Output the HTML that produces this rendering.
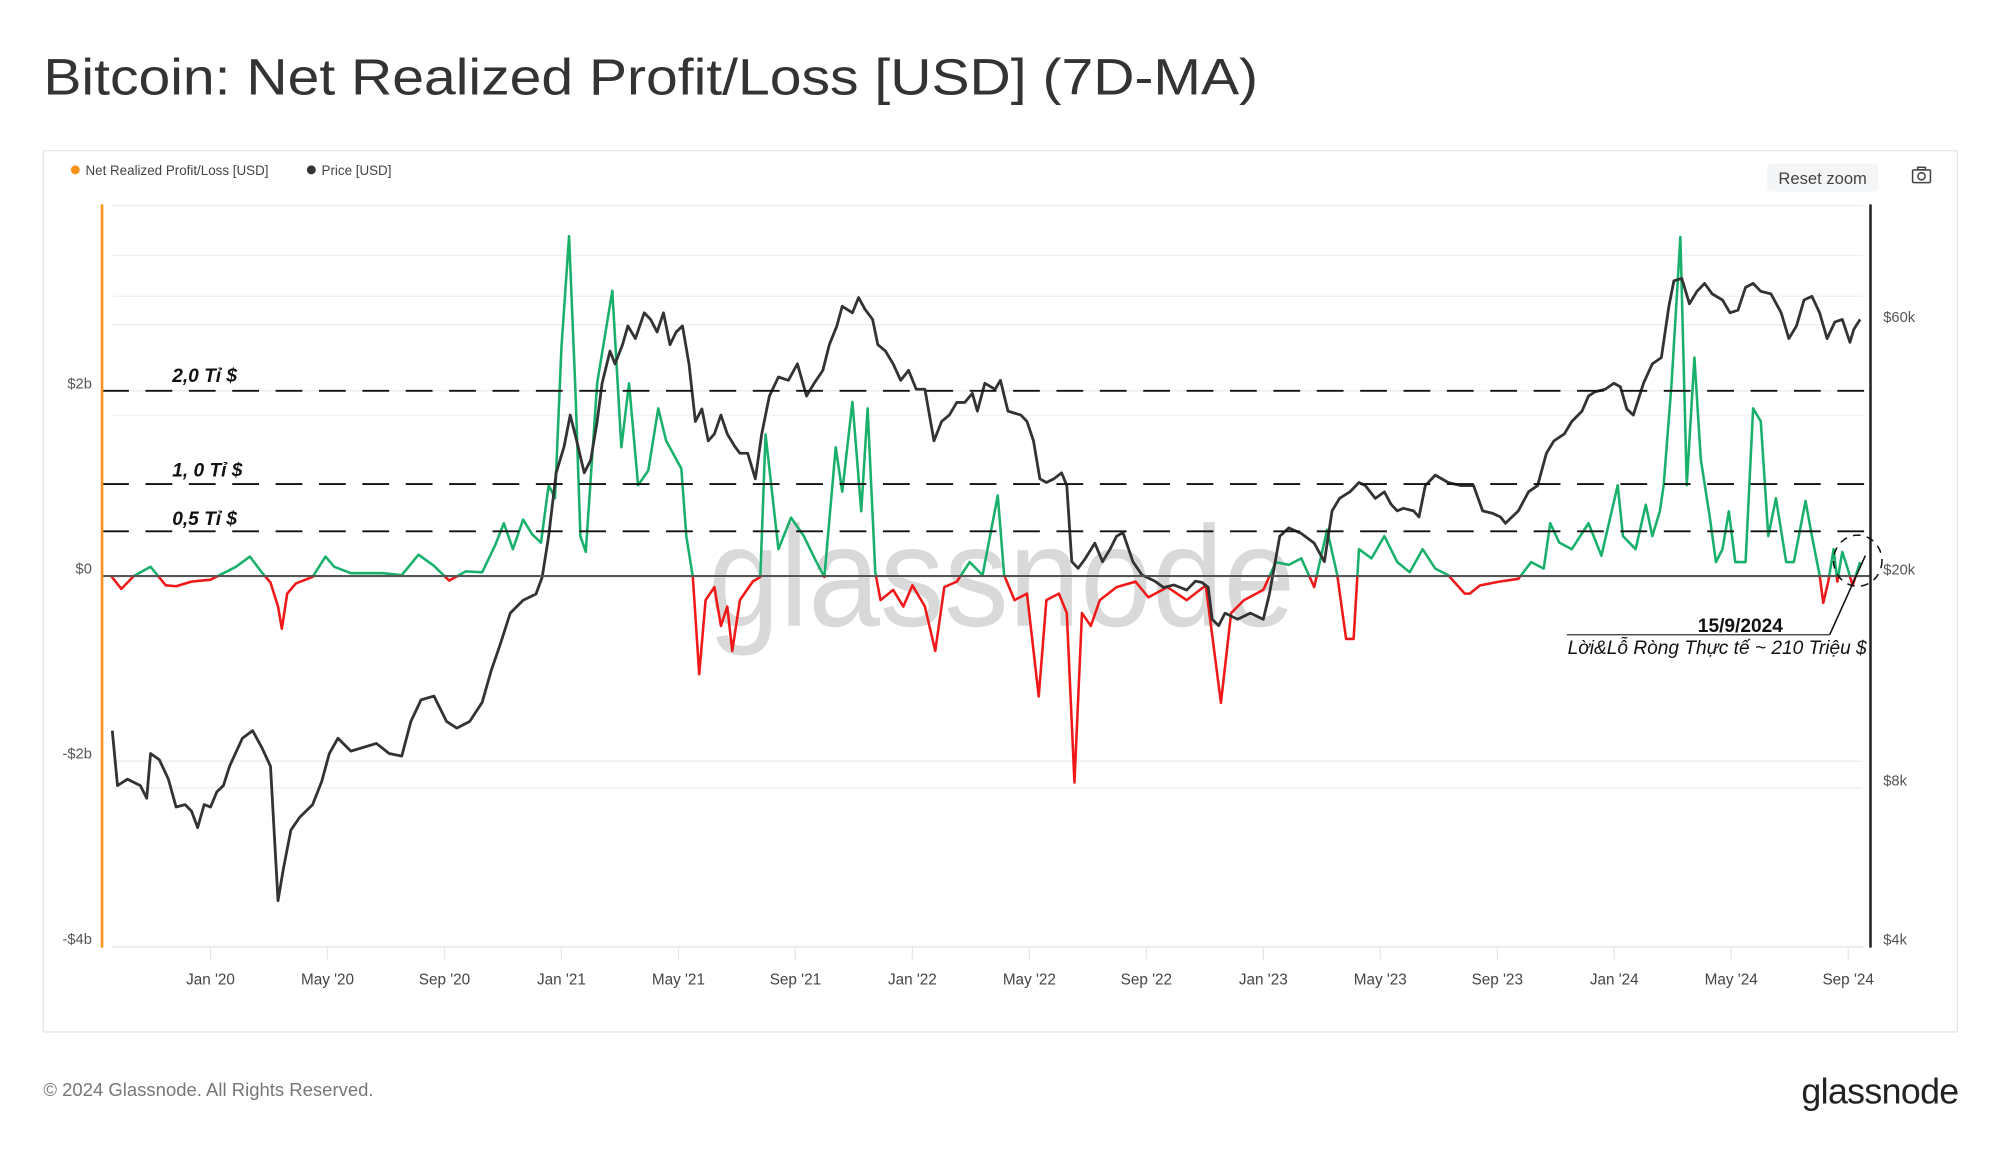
<!DOCTYPE html>
<html><head><meta charset="utf-8"><style>
html,body{margin:0;padding:0;background:#fff;}
svg{display:block;font-family:"Liberation Sans","Noto Sans CJK SC",sans-serif;}
</style></head><body>
<svg id="chart" width="2000" height="1152" viewBox="0 0 1567.5 902" preserveAspectRatio="none" xmlns="http://www.w3.org/2000/svg">
<text x="34" y="74" font-size="40" fill="#333" textLength="952" lengthAdjust="spacingAndGlyphs">Bitcoin: Net Realized Profit/Loss [USD] (7D-MA)</text>
<rect x="34" y="118" width="1500" height="690" fill="#fff" stroke="#e6e6e6" stroke-width="1"/>
<g>
<g><circle cx="59" cy="133" r="3.5" fill="#f7931a"/><text x="67" y="137" font-size="10.5" fill="#444">Net Realized Profit/Loss [USD]</text></g>
<g><circle cx="244" cy="133" r="3.5" fill="#333"/><text x="252" y="137" font-size="10.5" fill="#444">Price [USD]</text></g>
</g>
<g><rect x="1385" y="128" width="87" height="22" rx="3" fill="#f4f5f7"/><text x="1428.5" y="144" font-size="13" fill="#444" text-anchor="middle">Reset zoom</text></g>
<g fill="none" stroke="#444" stroke-width="1.2"><rect x="1499" y="133" width="14" height="10" rx="1"/><rect x="1503" y="131" width="6" height="2"/><circle cx="1506" cy="138" r="2.8"/></g>
<g id="grid"></g>
<text x="785" y="490" font-size="112" fill="#d9d9d9" text-anchor="middle" textLength="460" lengthAdjust="spacingAndGlyphs">glassnode</text>
<g id="yleft"></g>
<g id="yright"></g>
<g id="xaxis"></g>
<defs>
<clipPath id="above"><rect id="clipA" x="80" y="150" width="1386" height="301"/></clipPath>
<clipPath id="below"><rect id="clipB" x="80" y="451" width="1386" height="300"/></clipPath>
</defs>
<g id="marks"></g>
<g stroke="#111" stroke-width="1.4" stroke-dasharray="21,13">
<line x1="80" x2="1466" y1="306" y2="306"/>
<line x1="80" x2="1466" y1="379" y2="379"/>
<line x1="80" x2="1466" y1="416" y2="416"/>
</g>
<g font-size="15" font-weight="bold" font-style="italic" fill="#111">
<text x="135" y="299">2,0 Tỉ $</text>
<text x="135" y="373">1, 0 Tỉ $</text>
<text x="135" y="411">0,5 Tỉ $</text>
</g>
<line x1="80" x2="1466" y1="451" y2="451" stroke="#555" stroke-width="1.5"/>
<line x1="80" x2="80" y1="160" y2="742" stroke="#f7931a" stroke-width="2"/>
<line x1="1466" x2="1466" y1="160" y2="742" stroke="#222" stroke-width="2"/>
<g>
<ellipse cx="1456" cy="439" rx="19" ry="20" fill="none" stroke="#111" stroke-width="1.2" stroke-dasharray="6,5"/>
<line x1="1228" x2="1434" y1="497" y2="497" stroke="#333" stroke-width="1"/>
<line x1="1434" x2="1462" y1="497" y2="435" stroke="#111" stroke-width="1.2"/>
<text x="1364" y="495" font-size="15" font-weight="bold" fill="#111" text-anchor="middle">15/9/2024</text>
<text x="1463" y="512" font-size="15" font-style="italic" fill="#111" text-anchor="end">Lời&amp;Lỗ Ròng Thực tế ~ 210 Triệu $</text>
</g>
<text x="34" y="858" font-size="14.5" fill="#777">© 2024 Glassnode. All Rights Reserved.</text>
<text x="1535" y="864" font-size="28" fill="#222" text-anchor="end" letter-spacing="-0.5">glassnode</text>
</svg>
<script>
// months since Jan 2020 and NRPL in billions USD
const nrplMonths=[-3.40,-3.05,-2.62,-2.05,-1.53,-1.18,-0.65,0,0.44,0.87,1.35,1.75,2.05,2.31,2.44,2.62,2.92,3.49,3.93,4.23,4.8,5.89,6.54,7.11,7.64,8.16,8.73,9.29,9.73,10.03,10.34,10.69,11.0,11.3,11.56,11.78,12.0,12.26,12.48,12.65,12.83,13.22,13.74,14.05,14.31,14.62,14.97,15.31,15.58,16.1,16.27,16.49,16.71,16.93,17.23,17.45,17.67,17.84,18.1,18.54,18.8,18.98,19.42,19.85,20.29,20.72,20.99,21.38,21.6,21.95,22.25,22.47,22.73,22.91,23.34,23.69,24.0,24.43,24.78,25.09,25.52,25.96,26.4,26.92,27.14,27.49,27.92,28.32,28.58,29.01,29.28,29.54,29.8,30.1,30.41,30.98,31.63,32.07,32.72,33.38,34.03,34.55,34.9,35.34,36.0,36.43,36.87,37.3,37.74,38.18,38.53,38.83,39.09,39.27,39.7,40.14,40.58,41.01,41.45,41.88,42.32,42.89,43.06,43.41,44.07,44.72,45.16,45.59,45.81,46.12,46.55,47.12,47.56,48.12,48.3,48.73,49.08,49.3,49.56,49.69,49.96,50.26,50.48,50.74,50.96,51.27,51.48,51.7,51.92,52.14,52.49,52.75,53.01,53.27,53.53,53.88,54.14,54.54,54.76,55.02,55.15,55.32,55.5,55.63,55.8,55.98,56.15,56.41];
const nrplValues=[0,-0.14,0,0.1,-0.1,-0.11,-0.06,-0.04,0.03,0.1,0.21,0.04,-0.07,-0.33,-0.57,-0.19,-0.08,-0.01,0.21,0.1,0.03,0.03,0.01,0.23,0.11,-0.05,0.05,0.04,0.33,0.57,0.29,0.61,0.45,0.36,0.98,0.84,2.46,3.67,2.0,0.43,0.26,2.08,3.08,1.39,2.08,0.98,1.14,1.81,1.46,1.16,0.43,-0.01,-1.06,-0.26,-0.12,-0.54,-0.33,-0.81,-0.26,-0.06,-0.01,1.53,0.29,0.63,0.43,0.15,-0.01,1.39,0.91,1.88,0.7,1.81,0.04,-0.26,-0.15,-0.33,-0.1,-0.33,-0.81,-0.12,-0.06,0.15,0.01,0.87,0.01,-0.26,-0.19,-1.30,-0.26,-0.19,-0.4,-2.23,-0.4,-0.54,-0.26,-0.12,-0.06,-0.23,-0.12,-0.26,-0.1,-1.37,-0.4,-0.26,-0.15,0.15,0.12,0.19,-0.12,0.5,0.01,-0.68,-0.68,0.29,0.19,0.43,0.15,0.04,0.29,0.08,0.01,-0.19,-0.19,-0.1,-0.06,-0.03,0.15,0.08,0.57,0.36,0.29,0.57,0.22,0.98,0.43,0.29,0.77,0.43,0.7,0.98,2.08,3.66,0.98,2.36,1.26,0.63,0.15,0.29,0.7,0.15,0.15,1.81,1.67,0.43,0.84,0.15,0.15,0.81,0.43,0.01,-0.29,-0.06,0.29,-0.06,0.26,0.08,-0.1,0.15];
// months since Jan 2020 and BTC price in USD
const priceMonths=[-3.36,-3.18,-2.84,-2.4,-2.18,-2.05,-1.75,-1.44,-1.18,-0.87,-0.65,-0.44,-0.22,0,0.22,0.44,0.65,1.09,1.44,1.75,2.05,2.31,2.49,2.75,3.05,3.49,3.8,4.06,4.36,4.8,5.24,5.67,6.11,6.54,6.85,7.2,7.64,8.07,8.42,8.86,9.29,9.6,9.9,10.25,10.69,11.13,11.34,11.56,11.82,12.09,12.3,12.52,12.78,13.0,13.22,13.39,13.66,13.83,14.09,14.27,14.53,14.83,15.05,15.27,15.49,15.71,15.92,16.14,16.36,16.58,16.8,17.02,17.23,17.45,17.67,17.93,18.1,18.37,18.63,18.85,19.11,19.42,19.76,20.07,20.38,20.64,20.94,21.16,21.42,21.6,21.95,22.16,22.38,22.64,22.82,23.08,23.34,23.6,23.87,24.13,24.43,24.74,25.0,25.26,25.52,25.79,26.05,26.22,26.48,26.83,27.01,27.27,27.71,27.92,28.14,28.36,28.58,28.84,29.1,29.28,29.45,29.67,29.89,30.24,30.5,30.76,30.98,31.2,31.54,31.85,32.29,32.59,32.94,33.38,33.68,33.9,34.12,34.25,34.47,34.69,35.12,35.56,36.0,36.21,36.56,36.87,37.3,37.74,38.09,38.35,38.61,38.96,39.27,39.49,39.83,40.14,40.36,40.58,40.79,41.14,41.32,41.54,41.88,42.32,42.76,43.19,43.5,43.85,44.11,44.28,44.72,45.07,45.38,45.68,45.94,46.29,46.55,46.9,47.12,47.34,47.69,47.99,48.21,48.43,48.65,49.0,49.3,49.61,49.87,50.04,50.31,50.57,50.83,51.09,51.35,51.7,51.96,52.23,52.49,52.75,53.01,53.36,53.71,53.97,54.23,54.49,54.76,55.02,55.28,55.54,55.8,56.06,56.19,56.41];
const priceValues=[10260,8080,8310,8080,7650,9290,9040,8310,7360,7440,7230,6730,7440,7360,7870,8080,8790,9930,10260,9550,8790,4900,5630,6660,7040,7440,8220,9290,9930,9390,9550,9710,9290,9190,10680,11730,11930,10680,10380,10680,11610,13330,14900,17110,18100,18600,20000,23900,31500,35300,40500,36200,31500,33300,39400,46500,53500,50600,55000,59700,56500,63200,61400,58100,63200,55000,58100,59700,50600,39400,41600,36200,37300,40500,37300,35300,34300,34300,30700,37300,44000,47800,47100,50600,44000,46500,49200,55000,59700,65000,63200,67500,64200,61400,55000,53500,50600,47100,49200,45300,45300,36200,39400,40500,42800,42800,44500,41200,46500,45300,47100,41200,40500,39400,36200,30700,30200,30700,31500,29800,21400,20800,21600,23200,21400,22600,23900,24300,21400,20200,19670,19130,19340,18920,19670,19560,19130,16660,16200,17110,16660,17110,16660,18600,23900,24800,24200,23200,21400,26700,28200,29000,30200,29800,28200,29000,27500,26700,27000,26700,26000,29800,31200,30200,29800,29800,26700,26400,26000,25300,26700,29000,29800,34300,36200,37300,39400,41200,44000,44800,45300,46500,45800,41600,40500,46500,50600,52000,65000,72600,73400,65700,69400,71800,68600,66800,63200,63900,70600,71800,69400,68600,63200,56500,59700,66800,67900,63200,56500,60700,61400,55600,58800,61400];
const xTickLabels=["Jan '20","May '20","Sep '20","Jan '21","May '21","Sep '21","Jan '22","May '22","Sep '22","Jan '23","May '23","Sep '23","Jan '24","May '24","Sep '24"];
const xTickMonths=[0,4,8,12,16,20,24,28,32,36,40,44,48,52,56];
const leftTickLabels=["$2b","$0","-$2b","-$4b"];
const leftTickValues=[2,0,-2,-4];
const rightTickLabels=["$60k","$20k","$8k","$4k"];
const rightTickValues=[60000,20000,8000,4000];

const NS="http://www.w3.org/2000/svg";
const xScale=m=>165+m*22.92;
const yLeft=v=>451-v*72.5;
const yRight=p=>452-180*Math.log(p/20000);
function mk(tag,attrs,parent){const e=document.createElementNS(NS,tag);for(const k in attrs)e.setAttribute(k,attrs[k]);parent.appendChild(e);return e;}

const grid=document.getElementById('grid');
[200,232,325].forEach(y=>{const l=mk('line',{x1:88,x2:1460,y1:y,y2:y,stroke:'#f0f0f0','stroke-width':1},grid);

});
leftTickValues.concat([4]).forEach(v=>{const l=mk('line',{x1:88,x2:1460,y1:yLeft(v),y2:yLeft(v),stroke:'#ececec','stroke-width':1},grid);

});
rightTickValues.forEach(v=>{const l=mk('line',{x1:88,x2:1460,y1:yRight(v),y2:yRight(v),stroke:'#ececec','stroke-width':1},grid);

});

const yl=document.getElementById('yleft');
leftTickValues.forEach((v,i)=>{const t=mk('text',{x:72,y:yLeft(v)-2,'font-size':11.5,fill:'#555','text-anchor':'end'},yl);t.textContent=leftTickLabels[i];

});
const yr=document.getElementById('yright');
rightTickValues.forEach((v,i)=>{const t=mk('text',{x:1476,y:yRight(v)-2,'font-size':11.5,fill:'#555'},yr);t.textContent=rightTickLabels[i];

});
const xa=document.getElementById('xaxis');
xTickMonths.forEach((m,i)=>{const x=xScale(m);
const tk=mk('line',{x1:x,x2:x,y1:742,y2:752,stroke:'#e6e6e6','stroke-width':1},xa);


const t=mk('text',{x:x,y:771,'font-size':12,fill:'#444','text-anchor':'middle'},xa);t.textContent=xTickLabels[i];

});

const marks=document.getElementById('marks');
function pathOf(xs,ys,fy){return xs.map((m,i)=>(i?'L':'M')+xScale(m).toFixed(1)+','+fy(ys[i]).toFixed(1)).join('');}
const z=yLeft(0);
document.getElementById('clipA').setAttribute('height',z-150);
document.getElementById('clipB').setAttribute('y',z);
const dN=pathOf(nrplMonths,nrplValues,yLeft);
const g1=mk('path',{d:dN,fill:'none',stroke:'#19b06b','stroke-width':2,'clip-path':'url(#above)','stroke-linejoin':'round'},marks);


const r1=mk('path',{d:dN,fill:'none',stroke:'#f01818','stroke-width':2,'clip-path':'url(#below)','stroke-linejoin':'round'},marks);


const p1=mk('path',{d:pathOf(priceMonths,priceValues,yRight),fill:'none',stroke:'#333','stroke-width':2.2,'stroke-linejoin':'round'},marks);


</script>
</body></html>
